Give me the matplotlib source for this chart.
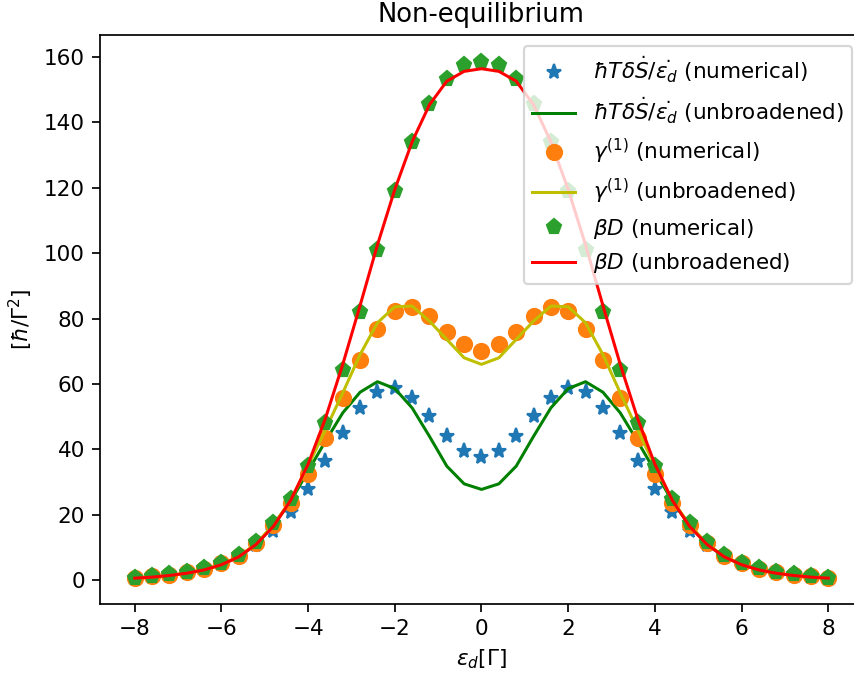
import numpy as np
import matplotlib
matplotlib.use("Agg")
import matplotlib.pyplot as plt

eps_d = np.linspace(-8, 8, 41)

S_num = [0.7, 1.1, 1.6, 2.3, 3.4, 4.9, 7.3, 10.7, 15.0, 20.8, 28.0, 36.4, 45.1, 52.7, 57.5, 58.8, 55.6, 50.2, 44.0, 39.5,
         37.8,
         39.5, 44.0, 50.2, 55.6, 58.8, 57.5, 52.7, 45.1, 36.4, 28.0, 20.8, 15.0, 10.7, 7.3, 4.9, 3.4, 2.3, 1.6, 1.1, 0.7]
S_unb = [0.7, 1.0, 1.5, 2.2, 3.2, 4.8, 7.2, 11.0, 16.8, 24.2, 33.4, 42.5, 51.2, 57.5, 60.7, 58.6, 52.7, 44.0, 34.9, 29.5,
         27.8,
         29.5, 34.9, 44.0, 52.7, 58.6, 60.7, 57.5, 51.2, 42.5, 33.4, 24.2, 16.8, 11.0, 7.2, 4.8, 3.2, 2.2, 1.5, 1.0, 0.7]
g_num = [0.8, 1.2, 1.8, 2.5, 3.6, 5.2, 7.6, 11.3, 16.8, 23.8, 32.4, 43.6, 55.8, 67.3, 76.8, 82.2, 83.5, 80.7, 75.8, 72.1,
         70.2,
         72.1, 75.8, 80.7, 83.5, 82.2, 76.8, 67.3, 55.8, 43.6, 32.4, 23.8, 16.8, 11.3, 7.6, 5.2, 3.6, 2.5, 1.8, 1.2, 0.8]
g_unb = [0.7, 1.0, 1.5, 2.2, 3.3, 4.9, 7.3, 11.2, 17.0, 24.5, 35.0, 46.0, 57.3, 69.0, 78.7, 83.6, 83.8, 79.2, 73.6, 68.0,
         66.0,
         68.0, 73.6, 79.2, 83.8, 83.6, 78.7, 69.0, 57.3, 46.0, 35.0, 24.5, 17.0, 11.2, 7.3, 4.9, 3.3, 2.2, 1.5, 1.0, 0.7]
D_num = [0.8, 1.3, 1.9, 2.6, 3.7, 5.3, 7.9, 11.6, 17.4, 25.0, 35.0, 48.0, 64.4, 82.0, 101.0, 118.8, 134.0, 145.6, 153.2, 157.4,
         158.5,
         157.4, 153.2, 145.6, 134.0, 118.8, 101.0, 82.0, 64.4, 48.0, 35.0, 25.0, 17.4, 11.6, 7.9, 5.3, 3.7, 2.6, 1.9, 1.3, 0.8]
D_unb = [0.7, 1.0, 1.5, 2.2, 3.2, 4.8, 7.2, 11.0, 16.5, 24.5, 35.5, 49.5, 66.0, 84.0, 102.5, 119.4, 134.0, 145.3, 152.5, 155.5,
         156.3,
         155.5, 152.5, 145.3, 134.0, 119.4, 102.5, 84.0, 66.0, 49.5, 35.5, 24.5, 16.5, 11.0, 7.2, 4.8, 3.2, 2.2, 1.5, 1.0, 0.7]

dpi = 155
fig = plt.figure(figsize=(854 / dpi, 675 / dpi), dpi=dpi)
ax = fig.add_axes([100 / 854, 71 / 675, 763 / 854, 569 / 675])

ax.plot(eps_d, S_num, '*', color='C0', ms=7,
        label=r'$\hbar T\delta\dot{S}/\dot{\varepsilon_d}$ (numerical)')
ax.plot(eps_d, S_unb, '-', color='g', lw=1.4,
        label=r'$\hbar T\delta\dot{S}/\dot{\varepsilon_d}$ (unbroadened)')
ax.plot(eps_d, g_num, 'o', color='C1', ms=7, label=r'$\gamma^{(1)}$ (numerical)')
ax.plot(eps_d, g_unb, '-', color='y', lw=1.4, label=r'$\gamma^{(1)}$ (unbroadened)')
ax.plot(eps_d, D_num, 'p', color='C2', ms=7, label=r'$\beta D$ (numerical)')
ax.plot(eps_d, D_unb, '-', color='r', lw=1.4, label=r'$\beta D$ (unbroadened)')

ax.set_xlim(-8.8, 8.8)
ax.set_ylim(-7.2, 166.6)
ax.set_xticks(np.arange(-8, 9, 2))
ax.set_yticks(np.arange(0, 161, 20))
ax.set_xlabel(r'$\varepsilon_d[\Gamma]$')
ax.set_ylabel(r'[$\hbar/\Gamma^2$]')
ax.set_title('Non-equilibrium')
ax.legend(loc='upper right')

fig.savefig('out.png', dpi=dpi)
